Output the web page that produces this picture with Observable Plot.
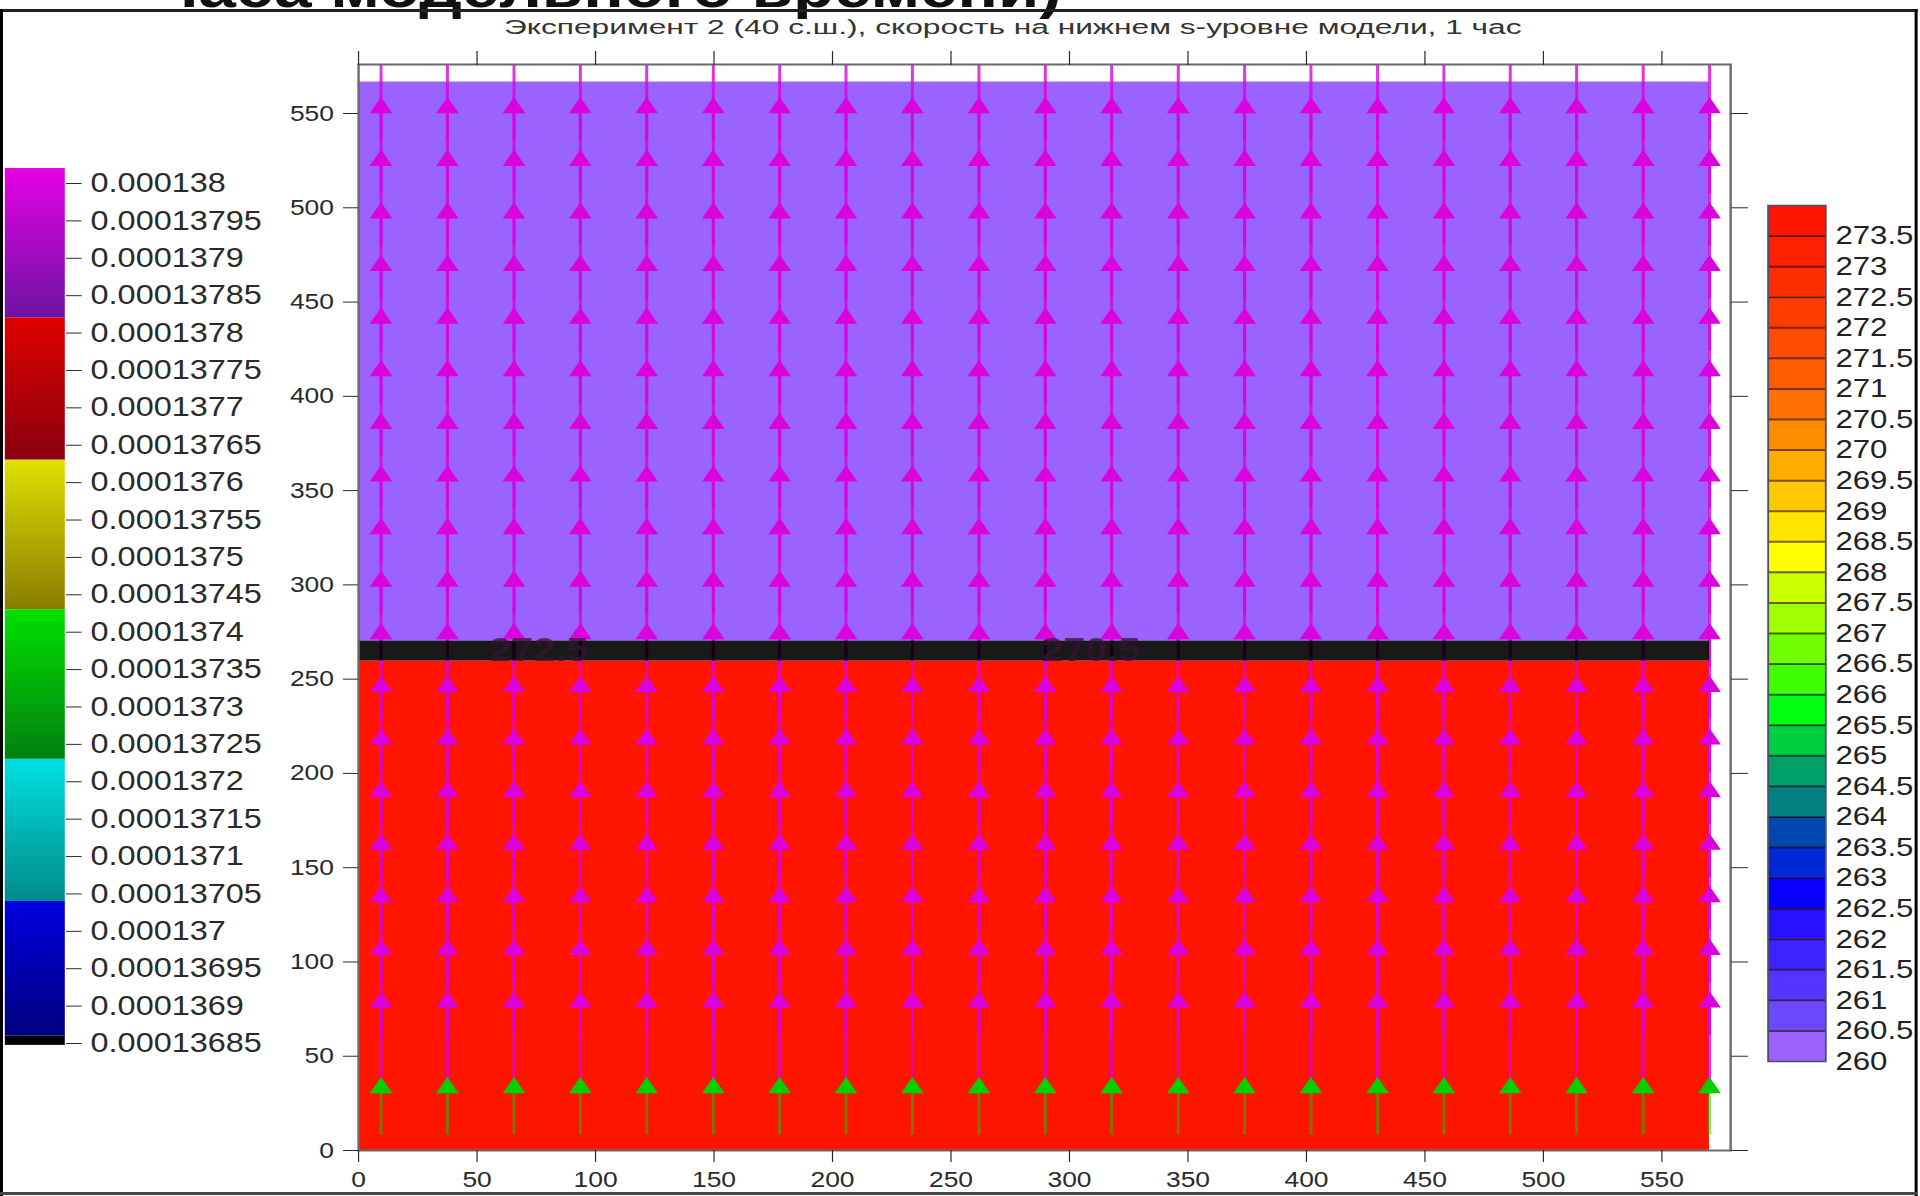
<!DOCTYPE html>
<html><head><meta charset="utf-8">
<script src="https://cdn.jsdelivr.net/npm/d3@7"></script>
<script src="https://cdn.jsdelivr.net/npm/@observablehq/plot@0.6"></script>
<style>
html,body{margin:0;padding:0;background:#fff;overflow:hidden;}
#page{position:relative;width:1920px;height:1196px;overflow:hidden;background:#fff;}
#stage{position:absolute;left:0;top:0;width:1600px;height:1196px;transform:scaleX(1.2);transform-origin:0 0;}
#stage > svg{position:absolute;left:0;top:0;}
</style></head><body>
<div id="page"><div id="stage"></div></div>
<script>
// ---------- data ----------
const xTicks = [0, 50, 100, 150, 200, 250, 300, 350, 400, 450, 500, 550];
const yTicks = [0, 50, 100, 150, 200, 250, 300, 350, 400, 450, 500, 550];

// vector grid (km)
const gridX = [9.5, 37.5, 65.6, 93.6, 121.6, 149.7, 177.7, 205.7, 233.7, 261.8, 289.8,
               317.8, 345.9, 373.9, 401.9, 430.0, 458.0, 486.0, 514.0, 542.1, 570.1];
const rowTipY = [580.9, 553.0, 525.1, 497.2, 469.3, 441.4, 413.5, 385.6, 357.7, 329.8,
                 301.9, 274.0, 246.1, 218.2, 190.3, 162.4, 134.5, 106.6, 78.7, 33.2];
const rowSpeed = [0.000138, 0.000138, 0.000138, 0.000138, 0.000138, 0.000138, 0.000138,
                  0.000138, 0.000138, 0.000138, 0.000138, 0.000138, 0.000138, 0.000138,
                  0.000138, 0.000138, 0.000138, 0.000138, 0.000138, 0.0001374];
const rowLength = [45.5, 45.5, 45.5, 45.5, 45.5, 45.5, 45.5, 45.5, 45.5, 45.5,
                   45.5, 45.5, 45.5, 45.5, 45.5, 45.5, 45.5, 45.5, 45.5, 25.0];

// temperature field
const fieldXMax = 570.1;
const fieldTemp = [260, 273.5];
const fieldY1 = [270.2, 0];
const fieldY2 = [566.7, 259.6];
const frontY = [259.6, 270.2];
const contourLabelX = [76, 309];
const contourLabelY = [265, 265];
const contourLabelText = ["272.5", "270.5"];

// temperature legend
const tempLevels = [260, 260.5, 261, 261.5, 262, 262.5, 263, 263.5, 264, 264.5, 265, 265.5, 266, 266.5,
                    267, 267.5, 268, 268.5, 269, 269.5, 270, 270.5, 271, 271.5, 272, 272.5, 273, 273.5];
const tempColors = ["#9a62ff", "#6c48ff", "#5434ff", "#3e22ff", "#2612ff", "#0a00ff", "#0028d8", "#0048b0",
                    "#008080", "#00a068", "#00d040", "#00ff10", "#40ff00", "#70ff00", "#a0ff00", "#ccff00",
                    "#ffff00", "#ffe400", "#ffc800", "#ffae00", "#ff8c00", "#ff7000", "#ff5c00", "#ff4c00",
                    "#ff3c00", "#ff2e00", "#ff2000", "#ff1400"];

// speed legend
const speedTicks = [0.000138, 0.00013795, 0.0001379, 0.00013785, 0.0001378, 0.00013775, 0.0001377,
                    0.00013765, 0.0001376, 0.00013755, 0.0001375, 0.00013745, 0.0001374, 0.00013735,
                    0.0001373, 0.00013725, 0.0001372, 0.00013715, 0.0001371, 0.00013705, 0.000137,
                    0.00013695, 0.0001369, 0.00013685];
const speedEdges = [0.00013802, 0.00013782, 0.00013763, 0.00013743, 0.00013723, 0.00013704, 0.00013686];
const speedBottom = 0.0001368475;
const segTop = ["#e600e6", "#e00000", "#e0e000", "#00e000", "#00e0e0", "#0000e0"];
const segBottom = ["#6c14a0", "#880010", "#8a7c00", "#008010", "#008a8a", "#000080"];

// ---------- helpers ----------
function speedColor(v) {
  for (let i = 0; i < segTop.length; i++) {
    const a = speedEdges[i], b = speedEdges[i + 1];
    if (v <= a && v >= b) return d3.interpolateRgb(segTop[i], segBottom[i])((a - v) / (a - b));
  }
  return v > speedEdges[0] ? segTop[0] : "#000000";
}
function tempColor(t) {
  let k = 0;
  for (let i = 0; i < tempLevels.length; i++) if (t >= tempLevels[i]) k = i;
  return tempColors[k];
}

const arrows = gridX.flatMap(x => rowTipY.map((tip, i) => ({x, tip, len: rowLength[i], speed: rowSpeed[i]})));
const fastArrows = arrows.filter(d => d.speed >= 0.0001376);
const slowArrows = arrows.filter(d => d.speed < 0.0001376);
const fieldIdx = fieldTemp.map((_, i) => i);

const baseStyle = {fontFamily: "'Liberation Sans', Arial, sans-serif", color: "#2a2a2a", background: "transparent", overflow: "visible", maxWidth: "none"};
const stage = document.getElementById("stage");

// gradient defs for the speed legend
const defs = d3.select(stage).append("svg").attr("width", 0).attr("height", 0).style("position", "absolute").append("defs");
segTop.forEach((c, i) => {
  const g = defs.append("linearGradient").attr("id", "sg" + i).attr("x1", 0).attr("y1", 0).attr("x2", 0).attr("y2", 1);
  g.append("stop").attr("offset", "0%").attr("stop-color", c);
  g.append("stop").attr("offset", "100%").attr("stop-color", segBottom[i]);
});

// ---------- main chart ----------
const main = Plot.plot({
  width: 1600, height: 1196,
  marginLeft: 298.3, marginRight: 158.3, marginTop: 64, marginBottom: 46,
  x: {domain: [0, 579], label: null},
  y: {domain: [0, 576], label: null},
  color: {type: "identity"},
  style: {...baseStyle, fontSize: "22px"},
  marks: [
    Plot.rect(fieldIdx, {x1: 0, x2: fieldXMax, y1: i => fieldY1[i], y2: i => fieldY2[i], fill: i => tempColor(fieldTemp[i])}),
    Plot.ruleX(slowArrows, {x: "x", y1: d => d.tip - d.len, y2: "tip", stroke: d => speedColor(d.speed), strokeWidth: 2.5, strokeOpacity: 0.5, clip: true}),
    Plot.ruleX(fastArrows, {x: "x", y1: d => d.tip - d.len, y2: "tip", stroke: d => speedColor(d.speed), strokeWidth: 2.5, strokeOpacity: 0.8, clip: true}),
    Plot.rect([0], {x1: 0, x2: fieldXMax, y1: frontY[0], y2: frontY[1], fill: "#000", fillOpacity: 0.9}),
    Plot.dot(arrows, {x: "x", y: "tip", symbol: "triangle", r: 7, fill: d => speedColor(d.speed), stroke: "none", clip: true}),
    Plot.text(contourLabelText, {x: (d, i) => contourLabelX[i], y: (d, i) => contourLabelY[i], text: d => d, fontSize: 33, fontWeight: "bold", fill: "#3a1238", fillOpacity: 0.75}),
    Plot.frame({stroke: "#6a6a6a", strokeWidth: 2}),
    Plot.axisX({anchor: "bottom", ticks: xTicks, tickSize: 12, tickPadding: 9, fontSize: 22, label: null}),
    Plot.axisX({anchor: "top", ticks: xTicks, tickSize: 14, tickFormat: () => "", label: null}),
    Plot.axisY({anchor: "left", ticks: yTicks, tickSize: 12.5, tickPadding: 8, fontSize: 22, label: null}),
    Plot.axisY({anchor: "right", ticks: yTicks, tickSize: 14, tickFormat: () => "", label: null})
  ]
});
stage.appendChild(main);

// ---------- speed legend (left) ----------
const segIdx = segTop.map((_, i) => i);
const leftLegend = Plot.plot({
  width: 300, height: 1196,
  marginLeft: 4, marginRight: 246, marginTop: 183, marginBottom: 153,
  x: {domain: [0, 1], axis: null},
  y: {domain: [speedTicks[speedTicks.length - 1], speedTicks[0]], label: null},
  style: {...baseStyle, fontSize: "27px"},
  marks: [
    ...segIdx.map(i => Plot.rect([i], {x1: 0, x2: 1, y1: speedEdges[i + 1], y2: speedEdges[i], fill: `url(#sg${i})`})),
    Plot.rect([0], {x1: 0, x2: 1, y1: speedBottom, y2: speedEdges[speedEdges.length - 1], fill: "#000"}),
    Plot.axisY({anchor: "right", ticks: speedTicks, tickFormat: d => String(d), tickSize: 13, tickPadding: 8, fontSize: 27, label: null})
  ]
});
stage.appendChild(leftLegend);

// ---------- temperature legend (right) ----------
const rightLegend = Plot.plot({
  width: 1600, height: 1196,
  marginLeft: 1473, marginRight: 79, marginTop: 205, marginBottom: 135,
  x: {domain: [0, 1], axis: null},
  y: {domain: [260, 274], axis: null},
  color: {type: "identity"},
  style: {...baseStyle, fontSize: "26px"},
  marks: [
    Plot.rect(tempLevels, {x1: 0, x2: 1, y1: d => d, y2: d => d + 0.5, fill: (d, i) => tempColors[i]}),
    Plot.ruleY(tempLevels.slice(1), {x1: 0, x2: 1, stroke: "#200000", strokeWidth: 2, strokeOpacity: 0.6}),
    Plot.frame({stroke: "#4a5070", strokeWidth: 1.5}),
    Plot.text(tempLevels, {x: 1, y: d => d, text: d => String(d), dx: 8, textAnchor: "start", fontSize: 26, fill: "#222"})
  ]
});
stage.appendChild(rightLegend);

// ---------- frame, title, cut-off slide heading ----------
const ov = d3.select(stage).append("svg").attr("width", 1600).attr("height", 1196).style("pointer-events", "none");
ov.append("text").attr("x", 133).attr("y", 7)
  .attr("font-family", "'Liberation Sans', Arial, sans-serif").attr("font-weight", "bold").attr("font-size", 56)
  .attr("fill", "#111").text("часа модельного времени)");
ov.append("rect").attr("x", 0).attr("y", 9).attr("width", 1598).attr("height", 3).attr("fill", "#222");
ov.append("rect").attr("x", 0).attr("y", 9).attr("width", 2.5).attr("height", 1187).attr("fill", "#000");
ov.append("rect").attr("x", 1595.5).attr("y", 9).attr("width", 2.5).attr("height", 1187).attr("fill", "#000");
ov.append("rect").attr("x", 0).attr("y", 1192).attr("width", 1598).attr("height", 3).attr("fill", "#444");
ov.append("text").attr("x", 844).attr("y", 34).attr("text-anchor", "middle")
  .attr("font-family", "'Liberation Sans', Arial, sans-serif").attr("font-size", 21)
  .attr("textLength", 848).attr("lengthAdjust", "spacingAndGlyphs").attr("fill", "#333")
  .text("Эксперимент 2 (40 с.ш.), скорость на нижнем s-уровне модели, 1 час");
</script>
</body></html>
